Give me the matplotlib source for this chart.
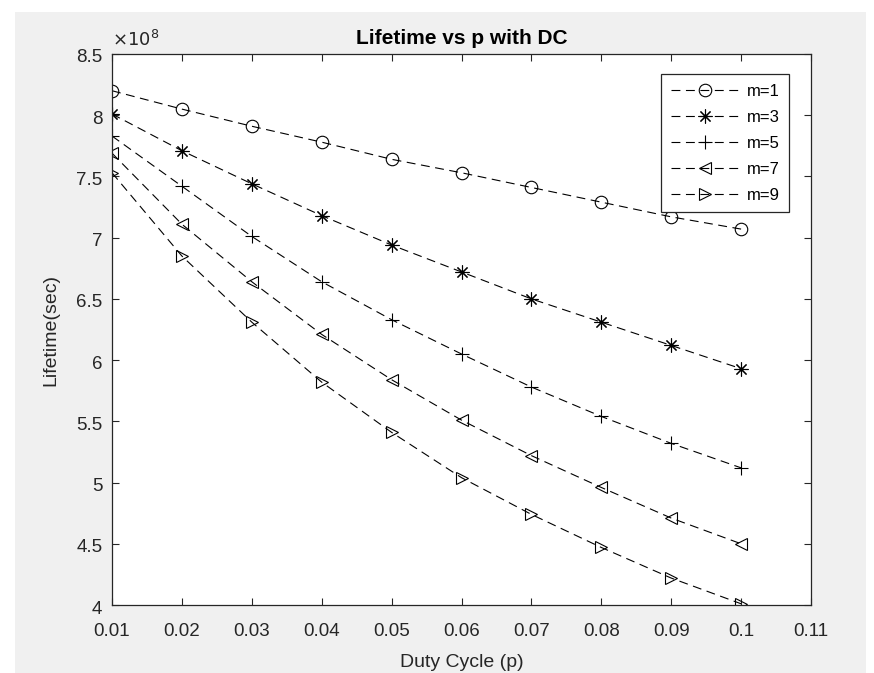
"""
Lifetime vs duty cycle p for several m (MATLAB-style figure)
"""
import numpy as np
import matplotlib
matplotlib.use('Agg')
import matplotlib.pyplot as plt
import matplotlib.transforms as mtransforms
from matplotlib.patches import Rectangle
from matplotlib.ticker import FuncFormatter

matplotlib.rcParams['font.family'] = ['Liberation Sans', 'DejaVu Sans']

# duty cycle values
p = [0.01, 0.02, 0.03, 0.04, 0.05, 0.06, 0.07, 0.08, 0.09, 0.10]

# lifetime in units of 1e8 sec
life_m1 = [8.20, 8.05, 7.91, 7.78, 7.64, 7.53, 7.41, 7.29, 7.17, 7.07]
life_m3 = [8.01, 7.71, 7.44, 7.18, 6.94, 6.72, 6.50, 6.31, 6.12, 5.93]
life_m5 = [7.83, 7.42, 7.01, 6.64, 6.33, 6.05, 5.78, 5.54, 5.32, 5.12]
life_m7 = [7.69, 7.11, 6.64, 6.21, 5.84, 5.51, 5.22, 4.96, 4.71, 4.50]
life_m9 = [7.53, 6.85, 6.31, 5.82, 5.41, 5.04, 4.74, 4.47, 4.22, 4.01]

labels = ['m=1', 'm=3', 'm=5', 'm=7', 'm=9']
markers = ['o', (8, 2, 0), '+', '<', '>']
msizes = [9, 10, 10, 9, 9]
series = [life_m1, life_m3, life_m5, life_m7, life_m9]

xticks = [0.01, 0.02, 0.03, 0.04, 0.05, 0.06, 0.07, 0.08, 0.09, 0.10, 0.11]
xtick_labels = ['0.01', '0.02', '0.03', '0.04', '0.05', '0.06', '0.07',
                '0.08', '0.09', '0.1', '0.11']
yticks = [4, 4.5, 5, 5.5, 6, 6.5, 7, 7.5, 8, 8.5]

GRAY = '#262626'

fig = plt.figure(figsize=(8.74, 6.73), dpi=100, facecolor='white')
# MATLAB figure background (screenshot has a thin white border)
fig.patches.append(Rectangle((15 / 874, 0), (866 - 15) / 874, 1 - 12 / 673,
                             transform=fig.transFigure, facecolor='#f0f0f0',
                             edgecolor='none', zorder=-10))

ax = fig.add_axes([112 / 874, 1 - 605 / 673, (811 - 112) / 874, (605 - 54) / 673])
ax.set_facecolor('white')

for y, lab, mk, ms in zip(series, labels, markers, msizes):
    ax.plot(p, np.array(y) * 1e8, color='black', linestyle=(0, (8, 5)), linewidth=0.8,
            marker=mk, markersize=ms, markerfacecolor='none', markeredgecolor='black',
            markeredgewidth=0.8, label=lab)

ax.set_xlim(0.01, 0.11)
ax.set_ylim(4e8, 8.5e8)
ax.set_xticks(xticks)
ax.set_xticklabels(xtick_labels)
ax.set_yticks([v * 1e8 for v in yticks])
ax.yaxis.set_major_formatter(FuncFormatter(lambda v, pos: f'{v / 1e8:g}'))

ax.tick_params(direction='in', length=5, width=0.8, top=True, right=True,
               labelsize=13.5, colors=GRAY)
ax.tick_params(axis='x', pad=13)
ax.tick_params(axis='y', pad=7)
# MATLAB draws y tick labels a touch below the tick
shift = mtransforms.ScaledTranslation(0, -2 / 100, fig.dpi_scale_trans)
for t in ax.get_yticklabels():
    t.set_transform(t.get_transform() + shift)
for s in ax.spines.values():
    s.set_color(GRAY)
    s.set_linewidth(0.9)

ax.text(0.0, 1.008, r'$\times10^{8}$', transform=ax.transAxes, fontsize=13,
        color=GRAY, ha='left', va='bottom')

ax.set_title('Lifetime vs p with DC', fontsize=15, fontweight='bold', pad=7)
ax.set_xlabel('Duty Cycle (p)', fontsize=14, color=GRAY, labelpad=10)
ax.set_ylabel('Lifetime(sec)', fontsize=14, color=GRAY, labelpad=12)

leg = ax.legend(loc='upper right', bbox_to_anchor=(0.981, 0.978), fontsize=12,
                handlelength=4.1, labelspacing=0.66, fancybox=False, framealpha=1,
                edgecolor=GRAY, borderpad=0.55, handletextpad=0.5)
leg.get_frame().set_linewidth(0.9)

fig.savefig('out.png', dpi=100, facecolor=fig.get_facecolor())
plt.close(fig)
